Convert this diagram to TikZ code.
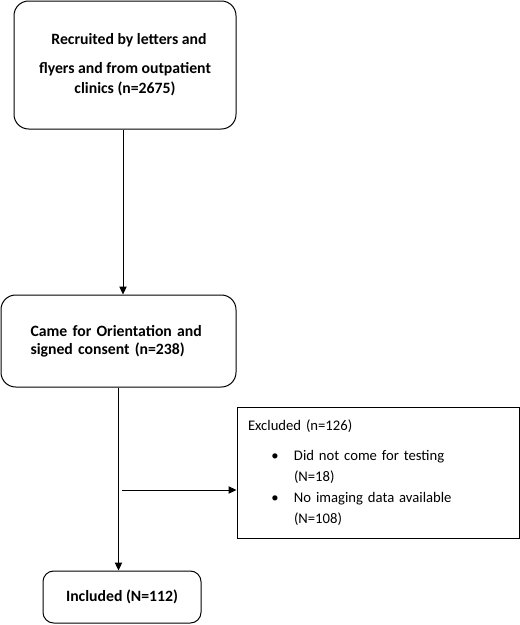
\documentclass[tikz,border=0pt]{standalone}
\usepackage{fontspec}
\setmainfont{Carlito}
\usetikzlibrary{arrows.meta}
\begin{document}
\begin{tikzpicture}[x=0.75pt, y=-0.75pt, line width=0.75pt,
			box/.style = {draw, rounded corners=11pt, inner sep=0pt, font=\bfseries\fontsize{11.8}{15}\selectfont},
			plain/.style = {draw, inner sep=0pt, font=\fontsize{11}{15.75}\selectfont},
			arr/.style = {-{Triangle[length=6pt,width=5.5pt]}}]
			
			\useasboundingbox (0,0) rectangle (520,625);
			
			\node[box, minimum width=166.5pt, minimum height=96pt, align=center] (recruit) at (125,65)
			{\hspace*{6pt}Recruited by letters and\\[7pt] flyers and from outpatient\\ clinics (n=2675)};
			\node[box, minimum width=176.25pt, minimum height=69pt, text width=132pt, align=left,
			font=\bfseries\fontsize{11.8}{13.5}\selectfont] (consent) at (118.5,341)
			{Came for Orientation and\\ signed consent (n=238)};
			\node[box, minimum width=118.5pt, minimum height=39pt, rounded corners=8pt] (incl) at (122,597) {Included (N=112)};
			\node[plain, minimum width=211.5pt, minimum height=98.25pt, text width=195pt, align=left] (excl) at (378,472.5)
			{Excluded (n=126)\\[7pt]
			\hspace*{17.5pt}\makebox[17pt][l]{\textbullet}Did not come for testing\\
			\hspace*{34.5pt}(N=18)\\
			\hspace*{17.5pt}\makebox[17pt][l]{\textbullet}No imaging data available\\
			\hspace*{34.5pt}(N=108)};
			
			\coordinate (split) at (122,490);
			
			\draw[arr] ([xshift=-1.5pt]recruit.south) -- ([xshift=-1.5pt]recruit.south |- consent.north);
			\draw[arr] (consent.south) -- (consent.south |- incl.north);
			\draw[arr] (split) -- (split -| excl.west);
			
		\end{tikzpicture}
\end{document}
